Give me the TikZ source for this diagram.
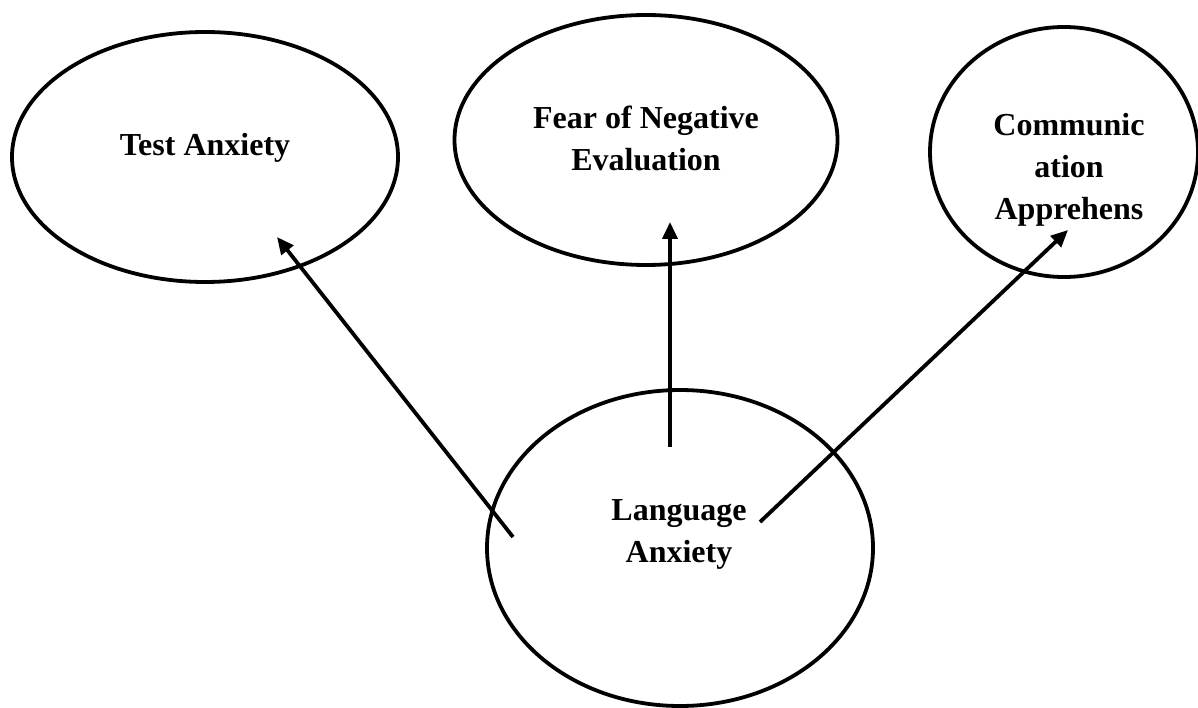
\documentclass[tikz,border=0pt]{standalone}
\usepackage{fontspec}
\setmainfont{Liberation Serif}
\usetikzlibrary{shapes.geometric,arrows.meta}
\begin{document}
\begin{tikzpicture}[x=1pt,y=-1pt,
  bubble/.style={draw=black,line width=3.8pt,shape=ellipse,inner sep=0pt},
  lbl/.style={font=\fontsize{32}{42}\selectfont\bfseries,align=center,inner sep=0pt},
  arr/.style={line width=3.8pt,-{Triangle[length=17pt,width=15pt]}}]
\useasboundingbox (0,0) rectangle (1198,708);
\node[bubble,minimum width=386pt,minimum height=250pt] (ta) at (205,157) {};
\node[bubble,minimum width=383pt,minimum height=250pt] (fne) at (646,140) {};
\node[bubble,minimum width=268pt,minimum height=250pt] (ca) at (1064,152) {};
\node[bubble,minimum width=386pt,minimum height=316pt] (la) at (680,548) {};
\node[lbl] (tat) at (205,148) {Test Anxiety};
\node[lbl] (fnet) at (646,138) {Fear of Negative\\Evaluation};
\node[lbl] (cat) at (1069,170) {Communic\\ation\\Apprehens};
\node[lbl] (lat) at (679,534) {Language\\Anxiety};
\coordinate (s1) at (513,537);
\coordinate (e1) at (277,237);
\coordinate (s2) at (670,447);
\coordinate (e2) at (670,222);
\coordinate (s3) at (760,522);
\coordinate (e3) at (1068,230);
\draw[arr] (s1) -- (e1);
\draw[arr] (s2) -- (e2);
\draw[arr] (s3) -- (e3);
\end{tikzpicture}
\end{document}
